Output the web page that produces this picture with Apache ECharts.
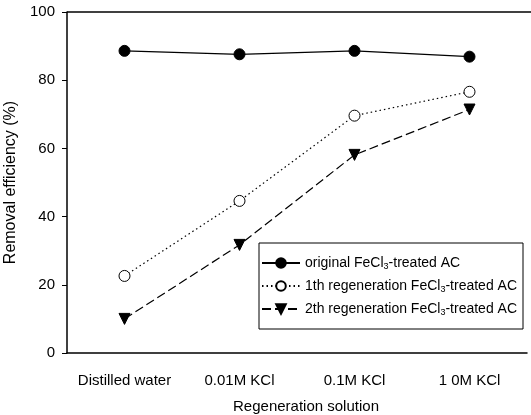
<!DOCTYPE html>
<html><head><meta charset="utf-8">
<script src="https://cdn.jsdelivr.net/npm/echarts@6/dist/echarts.min.js"></script>
<style>html,body{margin:0;padding:0;background:#fff}#c{width:531px;height:415px}</style>
</head><body><div id="c"></div>
<script>
var categories = ['Distilled water', '0.01M KCl', '0.1M KCl', '1 0M KCl'];
var original = [88.6, 87.6, 88.6, 86.9];
var regen1 = [22.6, 44.6, 69.6, 76.6];
var regen2 = [10.0, 31.7, 58.1, 71.4];
var seriesNames = ['original FeCl3-treated AC', '1th regeneration FeCl3-treated AC', '2th regeneration FeCl3-treated AC'];
var yTicks = [0, 20, 40, 60, 80, 100];

var chart = echarts.init(document.getElementById('c'));
var font = 'Liberation Sans, Arial, sans-serif';
function mk(name, data, symbol, fill, type) {
  return {
    name: name, type: 'line', data: data, symbol: symbol, symbolSize: 11,
    symbolRotate: symbol === 'triangle' ? 180 : 0,
    itemStyle: { color: fill, borderColor: '#000', borderWidth: 1 },
    lineStyle: { color: '#000', width: 1.2, type: type },
    showAllSymbol: true, animation: false
  };
}
chart.setOption({
  animation: false,
  grid: { left: 67, right: 4, top: 12, bottom: 62, containLabel: false, outerBoundsMode: 'none' },
  xAxis: {
    type: 'category', data: categories, boundaryGap: true,
    name: 'Regeneration solution', nameLocation: 'middle', nameGap: 46,
    nameTextStyle: { fontFamily: font, fontSize: 15, color: '#000', padding: [0, 0, 0, 18] },
    axisLine: { lineStyle: { color: '#000', width: 1.5 } },
    axisTick: { alignWithLabel: true, length: 5, lineStyle: { color: '#000' } },
    axisLabel: { interval: 0, hideOverlap: false, fontFamily: font, fontSize: 15, color: '#000', margin: 20 },
    splitLine: { show: false }
  },
  yAxis: {
    type: 'value', min: yTicks[0], max: yTicks[yTicks.length - 1], interval: 20,
    name: 'Removal efficiency (%)', nameLocation: 'middle', nameGap: 40,
    nameTextStyle: { fontFamily: font, fontSize: 16, color: '#000' },
    axisLine: { show: true, lineStyle: { color: '#000', width: 1.5 } },
    axisTick: { show: true, length: 5, lineStyle: { color: '#000' } },
    axisLabel: { fontFamily: font, fontSize: 15, color: '#000', margin: 12 },
    splitLine: { show: false }
  },
  graphic: [{ type: 'line', shape: { x1: 67, y1: 12, x2: 531, y2: 12 }, style: { stroke: '#000', lineWidth: 1.5 } }],
  legend: {
    orient: 'vertical', left: 259, top: 243,
    padding: [13, 6, 12, 2], itemGap: 8, itemWidth: 38, itemHeight: 12,
    borderColor: '#000', borderWidth: 1, backgroundColor: '#fff',
    textStyle: { fontFamily: font, fontSize: 14, color: '#000',
      rich: { s: { fontFamily: font, fontSize: 9, color: '#000', verticalAlign: 'bottom', padding: [7, 0, 0, 0] } } },
    formatter: function (n) { return n.replace('FeCl3', 'FeCl{s|3}'); },
    data: seriesNames
  },
  series: [
    mk(seriesNames[0], original, 'circle', '#000', 'solid'),
    mk(seriesNames[1], regen1, 'circle', '#fff', [1.5, 3]),
    mk(seriesNames[2], regen2, 'triangle', '#000', [9, 4])
  ]
});
</script></body></html>
